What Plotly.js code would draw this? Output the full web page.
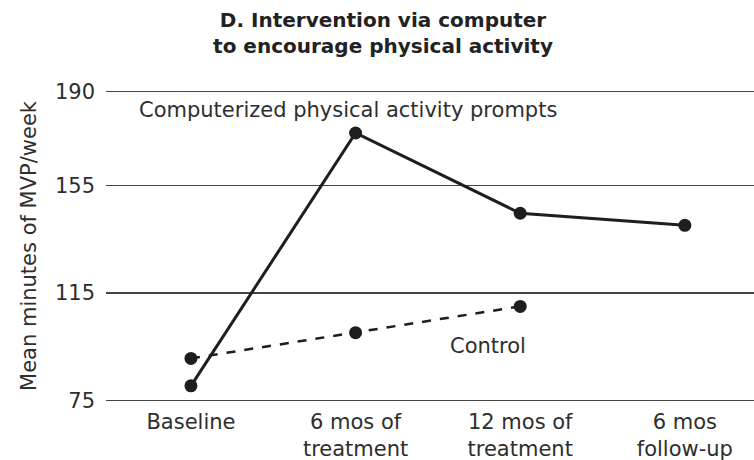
<!DOCTYPE html>
<html>
<head>
<meta charset="utf-8">
<script src="https://cdn.plot.ly/plotly-3.0.1.min.js"></script>
<style>html,body{margin:0;padding:0;background:#fff;}#chart{width:754px;height:460px;}</style>
</head>
<body>
<div id="chart"></div>
<script>
const categories = ["Baseline", "6 mos of<br>treatment", "12 mos of<br>treatment", "6 mos<br>follow-up"];
const interventionValues = [80.4, 174.6, 144.7, 140.2];
const controlCategories = ["Baseline", "6 mos of<br>treatment", "12 mos of<br>treatment"];
const controlValues = [90.6, 100.2, 110.0];
const yTickVals = [75, 115, 155, 190];
const yTickText = ["75", "115", "155", "190"];

const FONT = "'DejaVu Sans', sans-serif";
const INK = "#1e1e1e";
const TXT = "#2e2e2e";

const data = [
  {
    x: controlCategories, y: controlValues, type: "scatter", mode: "lines+markers",
    line: {color: INK, width: 2.5, dash: "dash"},
    marker: {color: INK, size: 13},
    cliponaxis: false, hoverinfo: "skip", showlegend: false
  },
  {
    x: categories, y: interventionValues, type: "scatter", mode: "lines+markers",
    line: {color: INK, width: 3},
    marker: {color: INK, size: 13},
    cliponaxis: false, hoverinfo: "skip", showlegend: false
  }
];

const layout = {
  width: 754, height: 460,
  margin: {l: 106, r: 0, t: 89, b: 57},
  paper_bgcolor: "#fff", plot_bgcolor: "#fff",
  font: {family: FONT, color: TXT, size: 21},
  title: {
    text: "D. Intervention via computer<br>to encourage physical activity",
    font: {family: FONT, size: 20, color: "#222", weight: 600},
    x: 0.508, xref: "container", xanchor: "center",
    y: 1 - 27 / 460, yref: "container", yanchor: "middle"
  },
  xaxis: {
    type: "category",
    categoryorder: "array", categoryarray: categories,
    range: [-0.516, 3.42],
    showgrid: false, zeroline: false, showline: false,
    ticks: "", tickfont: {family: FONT, size: 21, color: TXT},
    ticklabelstandoff: 4,
    fixedrange: true
  },
  yaxis: {
    range: [74, 191],
    tickvals: yTickVals, ticktext: yTickText,
    showgrid: true, gridcolor: "#444", gridwidth: 1.6,
    zeroline: false, showline: false, ticks: "",
    ticklabelstandoff: 10,
    tickfont: {family: FONT, size: 21, color: TXT},
    title: {text: "Mean minutes of MVP/week", font: {family: FONT, size: 21, color: TXT}, standoff: 12},
    fixedrange: true
  },
  annotations: [
    {
      text: "Computerized physical activity prompts",
      xref: "paper", yref: "paper", x: (348 - 106) / 648, y: (403 - 110) / 314,
      xanchor: "center", yanchor: "middle", showarrow: false,
      font: {family: FONT, size: 21, color: TXT}
    },
    {
      text: "Control",
      xref: "paper", yref: "paper", x: (488 - 106) / 648, y: (403 - 346) / 314,
      xanchor: "center", yanchor: "middle", showarrow: false,
      font: {family: FONT, size: 21, color: TXT}
    }
  ]
};

Plotly.newPlot("chart", data, layout, {displayModeBar: false, staticPlot: true});
</script>
</body>
</html>
